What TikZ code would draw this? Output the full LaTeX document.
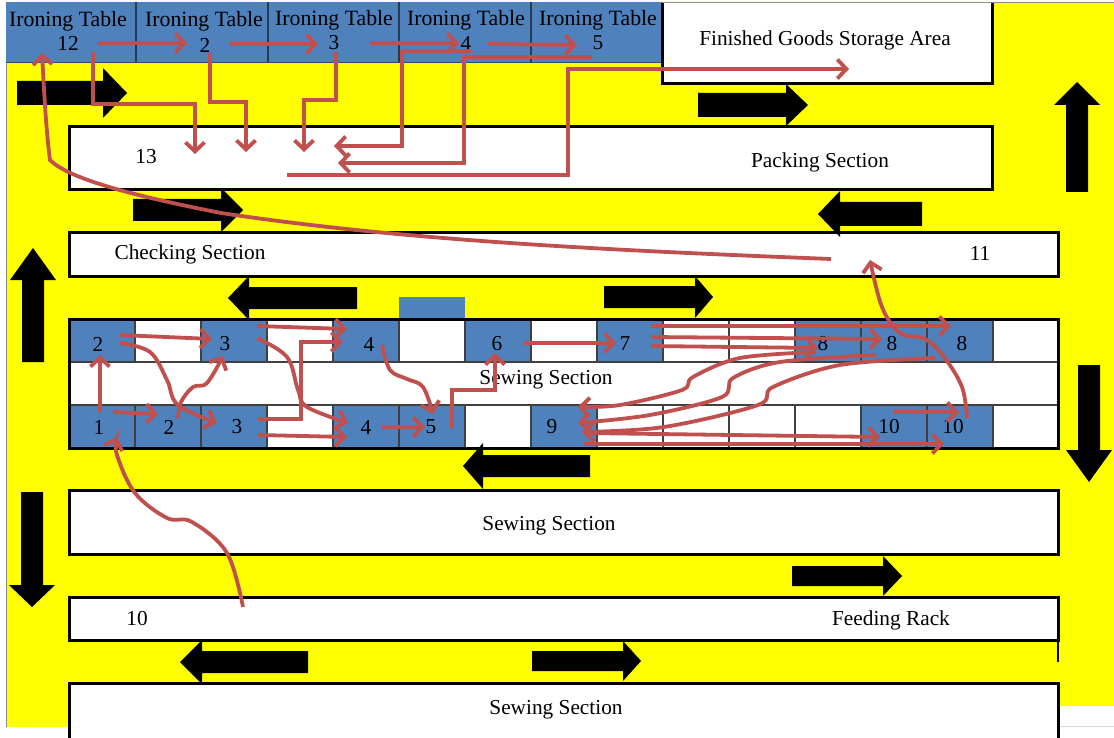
\documentclass[tikz,border=0pt]{standalone}
\usepackage{fontspec}
\setmainfont{Liberation Serif}
\usetikzlibrary{arrows.meta}
\definecolor{ryellow}{HTML}{FFFF00}
\definecolor{rblue}{HTML}{4F81BD}
\definecolor{rred}{HTML}{C0504D}
\tikzset{
  sect/.style={draw=black,line width=3pt,fill=white,anchor=north west,inner sep=0pt,outer sep=0pt},
  cellw/.style={draw=black!75,line width=1.3pt,fill=white,anchor=north west,inner sep=0pt,outer sep=0pt,minimum width=66pt,minimum height=43pt},
  cellb/.style={cellw,fill=rblue},
  tbl/.style={fill=rblue,anchor=north west,inner sep=0pt,outer sep=0pt,minimum height=61pt},
  tdiv/.style={draw=rblue!45!black,line width=1.3pt},
  num/.style={font=\fontsize{21.3}{23}\selectfont,inner sep=0pt,text=black},
  lab/.style={num,yshift=-2pt},
  tlab/.style={lab,font=\fontsize{21.8}{23}\selectfont},
  flow/.style={draw=rred,line width=3.8pt,line join=miter,-{Straight Barb[length=9pt,width=19pt,line width=3.8pt]}},
  blk/.style={fill=black}
}
\newcommand{\harr}[6]{\fill[blk] (#1,#4-#5) -- (#2,#4-#5) -- (#2,#4-#6) -- (#3,#4) -- (#2,#4+#6) -- (#2,#4+#5) -- (#1,#4+#5) -- cycle;}
\newcommand{\varr}[6]{\fill[blk] (#1-#5,#2) -- (#1-#5,#3) -- (#1-#6,#3) -- (#1,#4) -- (#1+#6,#3) -- (#1+#5,#3) -- (#1+#5,#2) -- cycle;}
\begin{document}
\begin{tikzpicture}[x=1pt,y=-1pt]
\useasboundingbox (0,0) rectangle (1114,738);
% background
\fill[white] (0,0) rectangle (1114,738);
\fill[ryellow] (6,2) -- (1114,2) -- (1114,706) -- (1058,706) -- (1058,727) -- (6,727) -- cycle;
\draw[black!45,line width=.8pt] (6,2) -- (6,727);
\draw[black!45,line width=.8pt] (6,2) -- (1114,2);
\draw[black!15,line width=1pt] (1058,726) -- (1114,726);
% ironing tables
\node[tbl,minimum width=130pt] (t1) at (6,2) {};
\node[tbl,minimum width=132pt] (t2) at (136,2) {};
\node[tbl,minimum width=131pt] (t3) at (268,2) {};
\node[tbl,minimum width=132pt] (t4) at (399,2) {};
\node[tbl,minimum width=131pt] (t5) at (531,2) {};
\draw[tdiv] (t1.north east) -- (t1.south east);
\draw[tdiv] (t2.north east) -- (t2.south east);
\draw[tdiv] (t3.north east) -- (t3.south east);
\draw[tdiv] (t4.north east) -- (t4.south east);
\draw[rblue!60!black,line width=1pt] (t1.south west) -- (t5.south east);
% sections
\node[fill=white,anchor=north west,inner sep=0pt,outer sep=0pt,minimum width=330pt,minimum height=81pt] (fin) at (662,3) {};
\draw[black,line width=3pt] (fin.north west) -- (fin.south west) -- (fin.south east) -- (fin.north east);
\node[sect,minimum width=923pt,minimum height=63pt] (pack) at (69,127) {};
\node[sect,minimum width=989pt,minimum height=43pt] (check) at (69,233) {};
\node[sect,minimum width=989pt,minimum height=129pt] (sew1) at (69,319) {};
\node[sect,minimum width=989pt,minimum height=64pt] (sew2) at (69,490) {};
\node[sect,minimum width=989pt,minimum height=43pt] (feed) at (69,597) {};
\node[sect,minimum width=989pt,minimum height=70pt] (sew3) at (69,683) {};
\draw[black,line width=2pt] (feed.south east) -- (1058,662);
\fill[rblue] (399,297) rectangle (465,318);
% top row cells
\node[cellb] (a0) at (69,319) {};
\node[cellw] (a1) at (135,319) {};
\node[cellb] (a2) at (201,319) {};
\node[cellw] (a3) at (267,319) {};
\node[cellb] (a4) at (333,319) {};
\node[cellw] (a5) at (399,319) {};
\node[cellb] (a6) at (465,319) {};
\node[cellw] (a7) at (531,319) {};
\node[cellb] (a8) at (597,319) {};
\node[cellw] (a9) at (663,319) {};
\node[cellw] (a10) at (729,319) {};
\node[cellb] (a11) at (795,319) {};
\node[cellb] (a12) at (861,319) {};
\node[cellb] (a13) at (927,319) {};
\node[cellw,minimum width=65pt] (a14) at (993,319) {};
% bottom row cells
\node[cellb] (b0) at (69,405) {};
\node[cellb] (b1) at (135,405) {};
\node[cellb] (b2) at (201,405) {};
\node[cellw] (b3) at (267,405) {};
\node[cellb] (b4) at (333,405) {};
\node[cellb] (b5) at (399,405) {};
\node[cellw] (b6) at (465,405) {};
\node[cellb] (b7) at (531,405) {};
\node[cellw] (b8) at (597,405) {};
\node[cellw] (b9) at (663,405) {};
\node[cellw] (b10) at (729,405) {};
\node[cellw] (b11) at (795,405) {};
\node[cellb] (b12) at (861,405) {};
\node[cellb] (b13) at (927,405) {};
\node[cellw,minimum width=65pt] (b14) at (993,405) {};
\draw[black,line width=3pt] (sew1.north west) rectangle (sew1.south east);
% labels
\node[tlab] (l1) at (68,19) {Ironing Table};
\node[tlab] (l2) at (204,19) {Ironing Table};
\node[tlab] (l3) at (334,18) {Ironing Table};
\node[tlab] (l4) at (466,18) {Ironing Table};
\node[tlab] (l5) at (598,18) {Ironing Table};
\node[num] (n12) at (68,43) {12};
\node[num] (n2) at (205,45) {2};
\node[num] (n3) at (334,43) {3};
\node[num] (n4) at (466,43) {4};
\node[num] (n5) at (598,43) {5};
\node[lab] (lfin) at (825,38) {Finished Goods Storage Area};
\node[num] (n13) at (146,157) {13};
\node[lab] (lpack) at (820,160) {Packing Section};
\node[lab] (lcheck) at (190,252) {Checking Section};
\node[num] (n11) at (980,253) {11};
\node[num] (ta0) at (98,344) {2};
\node[num] (ta2) at (225,344) {3};
\node[num] (ta4) at (369,344) {4};
\node[num] (ta6) at (497,344) {6};
\node[num] (ta8) at (625,344) {7};
\node[num] (ta11) at (823,344) {8};
\node[num] (ta12) at (892,344) {8};
\node[num] (ta13) at (962,344) {8};
\node[lab] (lsew1) at (546,378) {Sewing Section};
\node[num] (tb0) at (99,427) {1};
\node[num] (tb1) at (169,427) {2};
\node[num] (tb2) at (237,427) {3};
\node[num] (tb4) at (366,427) {4};
\node[num] (tb5) at (431,427) {5};
\node[num] (tb7) at (552,427) {9};
\node[num] (tb12) at (889,427) {10};
\node[num] (tb13) at (953,427) {10};
\node[lab] (lsew2) at (549,524) {Sewing Section};
\node[num] (n10) at (137,619) {10};
\node[lab] (lfeed) at (891,618) {Feeding Rack};
\node[lab] (lsew3) at (556,708) {Sewing Section};
% black block arrows
\harr{17}{103}{127}{93}{12}{25}
\harr{698}{786}{808}{105}{12}{21}
\varr{1077}{192}{105}{82}{11}{23}
\harr{922}{840}{818}{214}{12}{23}
\harr{133}{221}{243}{210}{11}{22}
\harr{357}{249}{228}{298}{11}{22}
\harr{604}{695}{713}{297}{11}{21}
\varr{33}{362}{280}{248}{11}{23}
\varr{1089}{365}{450}{482}{11}{23}
\harr{590}{483}{463}{466}{11}{23}
\varr{32}{492}{585}{607}{11}{23}
\harr{792}{883}{902}{576}{10}{20}
\harr{308}{202}{180}{662}{11}{22}
\harr{532}{623}{641}{661}{10}{20}
% flow end points
\coordinate (f1) at (97,43); \coordinate (f2) at (187,43);
\coordinate (f3) at (229,44); \coordinate (f4) at (318,44);
\coordinate (f5) at (370,43); \coordinate (f6) at (459,43);
\coordinate (f7) at (488,44); \coordinate (f8) at (577,45);
\coordinate (g1) at (93,52); \coordinate (g2) at (195,154);
\coordinate (g3) at (210,53); \coordinate (g4) at (246,152);
\coordinate (g5) at (336,52); \coordinate (g6) at (304,152);
\coordinate (h1) at (471,51); \coordinate (h2) at (334,146);
\coordinate (h3) at (592,57); \coordinate (h4) at (338,163);
\coordinate (j1) at (287,175); \coordinate (j2) at (849,69);
\coordinate (k1) at (831,259); \coordinate (k2) at (42,53);
\coordinate (m1) at (100,412); \coordinate (m2) at (100,355);
\coordinate (m3) at (113,412); \coordinate (m4) at (158,414);
\coordinate (m5) at (120,335); \coordinate (m6) at (212,339);
\coordinate (m7) at (120,343); \coordinate (m8) at (217,423);
\coordinate (m9) at (178,418); \coordinate (m10) at (223,356);
\coordinate (q1) at (257,326); \coordinate (q2) at (347,329);
\coordinate (q3) at (257,338); \coordinate (q4) at (348,423);
\coordinate (q5) at (258,419); \coordinate (q6) at (343,342);
\coordinate (q7) at (258,435); \coordinate (q8) at (347,437);
\coordinate (u1) at (382,345); \coordinate (u2) at (433,414);
\coordinate (v1) at (382,427); \coordinate (v2) at (425,427);
\coordinate (w1) at (452,428); \coordinate (w2) at (495,353);
\coordinate (x1) at (524,343); \coordinate (x2) at (616,343);
\coordinate (y1) at (651,326); \coordinate (y2) at (951,326);
\coordinate (y3) at (651,337); \coordinate (y4) at (882,339);
\coordinate (y5) at (651,346); \coordinate (y6) at (818,348);
\coordinate (c1) at (816,352); \coordinate (c2) at (578,407);
\coordinate (c3) at (876,355); \coordinate (c4) at (578,423);
\coordinate (c5) at (935,358); \coordinate (c6) at (582,432);
\coordinate (z1) at (584,433); \coordinate (z2) at (880,437);
\coordinate (z3) at (584,444); \coordinate (z4) at (944,444);
\coordinate (z5) at (893,412); \coordinate (z6) at (959,412);
\coordinate (o1) at (967,418); \coordinate (o2) at (870,260);
\coordinate (r1) at (243,607); \coordinate (r2) at (117,437);
% flows
\draw[flow] (f1) -- (f2);
\draw[flow] (f3) -- (f4);
\draw[flow] (f5) -- (f6);
\draw[flow] (f7) -- (f8);
\draw[flow] (g1) |- (195,104) -- (g2);
\draw[flow] (g3) |- (246,102) -- (g4);
\draw[flow] (g5) |- (304,100) -- (g6);
\draw[flow] (h1) -| (402,146) -- (h2);
\draw[flow] (h3) -| (464,163) -- (h4);
\draw[flow] (j1) -| (568,69) -- (j2);
\draw[flow] (k1) .. controls (600,250) and (400,240) .. (221,213) .. controls (140,197) and (70,180) .. (50,160) .. controls (46,130) and (44,90) .. (k2);
\draw[flow] plot[smooth,tension=.6] coordinates {(m7) (150,352) (167,380) (178,405) (m8)};
\draw[flow] (m1) -- (m2);
\draw[flow] (m3) -- (m4);
\draw[flow] (m5) -- (m6);
\draw[flow] plot[smooth,tension=.6] coordinates {(m9) (181,402) (193,387) (207,383) (m10)};
\draw[flow] (q1) -- (q2);
\draw[flow] plot[smooth,tension=.6] coordinates {(q3) (287,357) (298,390) (307,407) (q4)};
\draw[flow] (q5) -| (301,342) -- (q6);
\draw[flow] (q7) -- (q8);
\draw[flow] plot[smooth,tension=.6] coordinates {(u1) (390,370) (407,379) (423,387) (u2)};
\draw[flow] (v1) -- (v2);
\draw[flow] (w1) |- (495,390) -- (w2);
\draw[flow] (x1) -- (x2);
\draw[flow] (y1) -- (y2);
\draw[flow] (y3) -- (y4);
\draw[flow] (y5) -- (y6);
\draw[flow] plot[smooth,tension=.55] coordinates {(c1) (740,358) (693,377) (682,390) (620,405) (c2)};
\draw[flow] plot[smooth,tension=.55] coordinates {(c3) (780,362) (733,378) (722,397) (650,415) (c4)};
\draw[flow] plot[smooth,tension=.55] coordinates {(c5) (840,365) (773,387) (758,405) (664,427) (c6)};
\draw[flow] (z1) -- (z2);
\draw[flow] (z3) -- (z4);
\draw[flow] (z5) -- (z6);
\draw[flow] plot[smooth,tension=.6] coordinates {(o1) (962,387) (944,357) (925,339) (900,333) (882,307) (o2)};
\draw[flow] plot[smooth,tension=.6] coordinates {(r1) (227,553) (192,522) (167,518) (135,493) (117,455) (r2)};
\end{tikzpicture}
\end{document}
